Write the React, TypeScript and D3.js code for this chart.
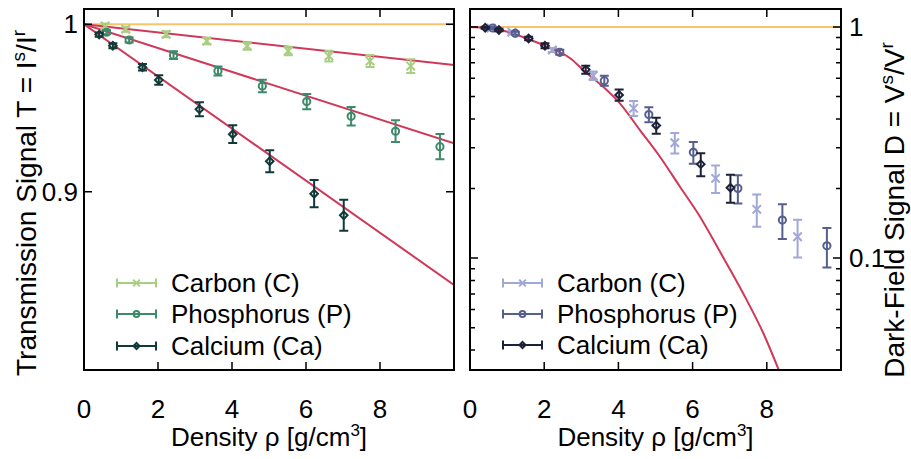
import React from "react";
import * as d3 from "d3";

// ---------- data ----------
const densityC = [0.57, 1.13, 2.22, 3.32, 4.41, 5.52, 6.62, 7.73, 8.83];
const densityP = [0.61, 1.22, 2.42, 3.62, 4.82, 6.02, 7.22, 8.42, 9.62];
const densityCa = [0.41, 0.78, 1.58, 2.02, 3.12, 4.02, 5.02, 6.22, 7.02];

const transC = [0.999, 0.997, 0.994, 0.990, 0.987, 0.984, 0.981, 0.978, 0.975];
const transCErr = [0.0015, 0.0015, 0.0018, 0.002, 0.0023, 0.0025, 0.0032, 0.0036, 0.0041];
const transP = [0.9952, 0.9906, 0.9815, 0.9721, 0.9631, 0.9538, 0.945, 0.9361, 0.9269];
const transPErr = [0.0012, 0.0015, 0.0023, 0.0027, 0.0037, 0.0046, 0.0055, 0.0065, 0.0075];
const transCa = [0.9938, 0.9872, 0.9743, 0.9667, 0.9492, 0.9343, 0.9182, 0.8988, 0.8859];
const transCaErr = [0.0012, 0.0015, 0.002, 0.0028, 0.0042, 0.0053, 0.0066, 0.0081, 0.0093];

const fitDensity = [0, 10];
const fitTransC = [1, 0.9757];
const fitTransP = [1, 0.9289];
const fitTransCa = [1, 0.8443];

const darkC = [0.988, 0.95, 0.795, 0.6155, 0.4447, 0.3156, 0.2213, 0.1625, 0.1237];
const darkCErr = [0.01, 0.012, 0.016, 0.026, 0.033, 0.032, 0.03, 0.026, 0.023];
const darkP = [0.99, 0.939, 0.777, 0.5855, 0.418, 0.2868, 0.2003, 0.1461, 0.113];
const darkPErr = [0.01, 0.014, 0.019, 0.029, 0.031, 0.031, 0.028, 0.025, 0.022];
const darkCa = [0.993, 0.97, 0.891, 0.83, 0.654, 0.508, 0.375, 0.255, 0.2015];
const darkCaErr = [0.01, 0.012, 0.016, 0.021, 0.026, 0.029, 0.03, 0.029, 0.028];

const modelDensity = [0, 0.45, 0.9, 1.57, 2.07, 2.7, 3.1, 3.59, 4.04, 4.58, 5.12, 5.66, 6.2, 6.69, 7.46, 7.91, 8.36];
const modelDark = [1, 0.99, 0.963, 0.887, 0.822, 0.732, 0.64, 0.551, 0.4675, 0.358, 0.2745, 0.2035, 0.151, 0.11, 0.0658, 0.0472, 0.0317];

const xTicks = [0, 2, 4, 6, 8];
const leftYTicks = [1, 0.9];
const rightYMajor = [1, 0.1];
const rightYMinor = [0.9, 0.8, 0.7, 0.6, 0.5, 0.4, 0.3, 0.2, 0.09, 0.08, 0.07, 0.06, 0.05, 0.04];

const seriesNames = ["Carbon (C)", "Phosphorus (P)", "Calcium (Ca)"];
const leftColors = ["#a8ce82", "#3d8a6b", "#0f3a38"];
const rightColors = ["#a0a8d6", "#565f8e", "#1c2138"];
const markerShapes = ["x", "o", "d"];

const RED = "#d0385a";
const ORANGE = "#f8c468";
const FONT = "'Liberation Sans', Arial, Helvetica, sans-serif";
const FS = 26;
const LFS = 28;

// ---------- layout ----------
const W = 911, H = 459;
const L = { x0: 84, x1: 454, y0: 9, y1: 370 };
const R = { x0: 470, x1: 841, y0: 9, y1: 370 };

const xL = d3.scaleLinear().domain([0, 10]).range([L.x0, L.x1]);
const yL = d3.scaleLinear().domain([0.7935, 1.0091]).range([L.y1, L.y0]);
const xR = d3.scaleLinear().domain([0, 10]).range([R.x0, R.x1]);
const yR = d3.scaleLog().domain([0.0328, 1.196]).range([R.y1, R.y0]);

function Marker({ shape, cx, cy, color, s = 1 }: any) {
  if (shape === "x") {
    const a = 4.2 * s;
    return (
      <path d={`M${cx - a},${cy - a}L${cx + a},${cy + a}M${cx - a},${cy + a}L${cx + a},${cy - a}`} stroke={color} strokeWidth={2} fill="none" />
    );
  }
  if (shape === "o") {
    return <circle cx={cx} cy={cy} r={3.6 * s} stroke={color} strokeWidth={2} fill="none" />;
  }
  const a = 3.8 * s;
  return (
    <path d={`M${cx},${cy - a}L${cx + a},${cy}L${cx},${cy + a}L${cx - a},${cy}Z`} stroke={color} strokeWidth={2} fill="none" />
  );
}

function Series({ xs, ys, errs, x, y, color, shape }: any) {
  const cap = 4.5;
  return (
    <g>
      {xs.map((d: number, i: number) => {
        const cx = x(d);
        const cy = y(ys[i]);
        const top = y(ys[i] + errs[i]);
        const bot = y(ys[i] - errs[i]);
        return (
          <g key={i}>
            <path
              d={`M${cx},${top}L${cx},${bot}M${cx - cap},${top}L${cx + cap},${top}M${cx - cap},${bot}L${cx + cap},${bot}`}
              stroke={color}
              strokeWidth={2}
              fill="none"
            />
            <Marker shape={shape} cx={cx} cy={cy} color={color} />
          </g>
        );
      })}
    </g>
  );
}

function Legend({ x1, x2, ys, tx, colors }: any) {
  return (
    <g>
      {seriesNames.map((name, i) => {
        const y = ys[i];
        const c = colors[i];
        return (
          <g key={name}>
            <path d={`M${x1},${y}L${x2},${y}M${x1},${y - 4.5}L${x1},${y + 4.5}M${x2},${y - 4.5}L${x2},${y + 4.5}`} stroke={c} strokeWidth={2} fill="none" />
            <Marker shape={markerShapes[i]} cx={(x1 + x2) / 2} cy={y} color={c} s={0.8} />
            <text x={tx} y={y} dy="0.35em" fontSize={FS} fontFamily={FONT} fill="#000">
              {name}
            </text>
          </g>
        );
      })}
    </g>
  );
}

function XAxis({ P, x }: any) {
  return (
    <g>
      {xTicks.map((t) => (
        <g key={t}>
          {t > 0 && (
            <path d={`M${x(t)},${P.y1}L${x(t)},${P.y1 - 8}M${x(t)},${P.y0}L${x(t)},${P.y0 + 8}`} stroke="#000" strokeWidth={1.5} />
          )}
          <text x={x(t)} y={418} textAnchor="middle" fontSize={FS} fontFamily={FONT}>
            {t}
          </text>
        </g>
      ))}
      <text x={(P.x0 + P.x1) / 2} y={446} textAnchor="middle" fontSize={FS} fontFamily={FONT}>
        Density ρ [g/cm
        <tspan fontSize={17} dy={-10}>3</tspan>
        <tspan dy={10}>]</tspan>
      </text>
    </g>
  );
}

export default function App() {
  const leftSeries = [
    { xs: densityC, ys: transC, errs: transCErr },
    { xs: densityP, ys: transP, errs: transPErr },
    { xs: densityCa, ys: transCa, errs: transCaErr },
  ];
  const rightSeries = [
    { xs: densityC, ys: darkC, errs: darkCErr },
    { xs: densityP, ys: darkP, errs: darkPErr },
    { xs: densityCa, ys: darkCa, errs: darkCaErr },
  ];
  const fits = [fitTransC, fitTransP, fitTransCa];
  const lineL = d3.line<number>().x((_, i) => xL(fitDensity[i]));
  const modelLine = d3
    .line<number>()
    .x((_, i) => xR(modelDensity[i]))
    .y((d) => yR(d))
    .curve(d3.curveMonotoneX);

  return (
    <svg width={W} height={H} style={{ position: "absolute", left: 0, top: 0, background: "#fff" }} fontFamily={FONT}>
      <defs>
        <clipPath id="clipL">
          <rect x={L.x0} y={L.y0} width={L.x1 - L.x0} height={L.y1 - L.y0} />
        </clipPath>
        <clipPath id="clipR">
          <rect x={R.x0} y={R.y0} width={R.x1 - R.x0} height={R.y1 - R.y0} />
        </clipPath>
      </defs>

      {/* Left panel */}
      <g clipPath="url(#clipL)">
        <line x1={L.x0} x2={L.x1} y1={yL(1)} y2={yL(1)} stroke={ORANGE} strokeWidth={2} />
        {fits.map((f, i) => (
          <path key={i} d={lineL.y((d) => yL(d))(f) || ""} stroke={RED} strokeWidth={2} fill="none" />
        ))}
        {leftSeries.map((s, i) => (
          <Series key={i} {...s} x={xL} y={yL} color={leftColors[i]} shape={markerShapes[i]} />
        ))}
      </g>
      {leftYTicks.map((t) => (
        <g key={t}>
          <path d={`M${L.x0},${yL(t)}L${L.x0 + 8},${yL(t)}M${L.x1},${yL(t)}L${L.x1 - 8},${yL(t)}`} stroke="#000" strokeWidth={1.5} />
          <text x={78} y={yL(t)} dy="0.35em" textAnchor="end" fontSize={FS} fontFamily={FONT}>
            {t}
          </text>
        </g>
      ))}
      <XAxis P={L} x={xL} />
      <rect x={L.x0} y={L.y0} width={L.x1 - L.x0} height={L.y1 - L.y0} fill="none" stroke="#000" strokeWidth={2} />
      <Legend x1={117} x2={156} ys={[283, 314, 346]} tx={171} colors={leftColors} />
      <text transform={`translate(36,203) rotate(-90)`} textAnchor="middle" fontSize={LFS} fontFamily={FONT}>
        Transmission Signal T = I<tspan fontSize={19} dy={-11}>s</tspan>
        <tspan dy={11}>/I</tspan>
        <tspan fontSize={19} dy={-11}>r</tspan>
      </text>

      {/* Right panel */}
      <g clipPath="url(#clipR)">
        <line x1={R.x0} x2={R.x1} y1={yR(1)} y2={yR(1)} stroke={ORANGE} strokeWidth={2} />
        <path d={modelLine(modelDark) || ""} stroke={RED} strokeWidth={2} fill="none" />
        {rightSeries.map((s, i) => (
          <Series key={i} {...s} x={xR} y={yR} color={rightColors[i]} shape={markerShapes[i]} />
        ))}
      </g>
      {rightYMajor.map((t) => (
        <g key={t}>
          <path d={`M${R.x0},${yR(t)}L${R.x0 + 8},${yR(t)}M${R.x1},${yR(t)}L${R.x1 - 8},${yR(t)}`} stroke="#000" strokeWidth={1.5} />
          <text x={849} y={yR(t)} dy="0.35em" textAnchor="start" fontSize={FS} fontFamily={FONT}>
            {t}
          </text>
        </g>
      ))}
      {rightYMinor.map((t) => (
        <path key={t} d={`M${R.x0},${yR(t)}L${R.x0 + 5},${yR(t)}M${R.x1},${yR(t)}L${R.x1 - 5},${yR(t)}`} stroke="#000" strokeWidth={1.5} />
      ))}
      <XAxis P={R} x={xR} />
      <rect x={R.x0} y={R.y0} width={R.x1 - R.x0} height={R.y1 - R.y0} fill="none" stroke="#000" strokeWidth={2} />
      <Legend x1={503} x2={542} ys={[283, 314, 345]} tx={557} colors={rightColors} />
      <text transform={`translate(904,210) rotate(-90)`} textAnchor="middle" fontSize={LFS} fontFamily={FONT}>
        Dark-Field Signal D = V<tspan fontSize={19} dy={-11}>s</tspan>
        <tspan dy={11}>/V</tspan>
        <tspan fontSize={19} dy={-11}>r</tspan>
      </text>
    </svg>
  );
}
